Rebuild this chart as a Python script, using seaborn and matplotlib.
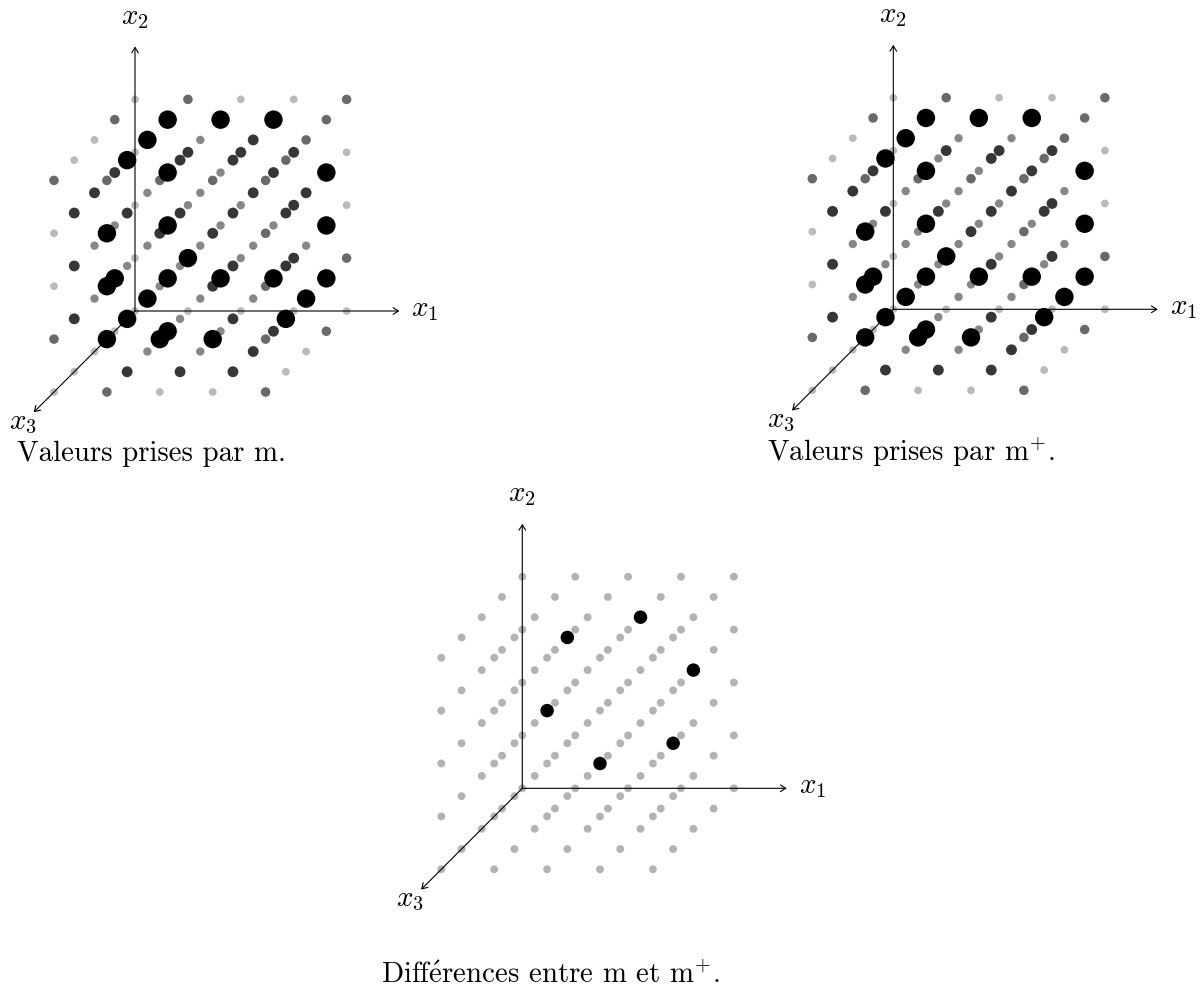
import matplotlib
matplotlib.use("Agg")
import matplotlib.pyplot as plt
import numpy as np
import pandas as pd
import seaborn as sns

sns.set_theme(style="white")
plt.rcParams["mathtext.fontset"] = "cm"
plt.rcParams["font.family"] = ["cmr10", "DejaVu Serif"]
plt.rcParams["axes.formatter.use_mathtext"] = True

W, H = 1203, 992
UNIT = 52.9            # pixels per lattice unit
DEPTH = 20.25 / 52.9   # oblique projection of the x3 axis

GREYS = {0: "#bababa", 1: "#878787", 2: "#696969", 3: "#363636", 4: "#000000"}
SIZES = {0: 31, 1: 36, 2: 47, 3: 61, 4: 176}

# levels of m, layer by layer: levels[k][j][i]  (j = 0 is the bottom row)
m_k0 = [[0, 0, 0, 0, 0],
        [0, 4, 1, 3, 2],
        [0, 1, 1, 3, 0],
        [0, 3, 3, 3, 0],
        [0, 2, 0, 0, 2]]
m_k1 = [[0, 4, 1, 3, 2],
        [4, 4, 4, 4, 4],
        [1, 4, 1, 1, 4],
        [3, 4, 1, 3, 4],
        [2, 4, 4, 4, 2]]
m_k2 = [[0, 1, 1, 3, 0],
        [1, 4, 1, 1, 4],
        [1, 1, 1, 1, 1],
        [3, 1, 1, 3, 3],
        [0, 4, 1, 3, 2]]
m_k3 = [[0, 3, 3, 3, 0],
        [3, 4, 1, 3, 4],
        [3, 1, 1, 3, 3],
        [3, 3, 3, 3, 3],
        [0, 4, 3, 3, 2]]
m_k4 = [[0, 2, 0, 0, 2],
        [2, 4, 4, 4, 2],
        [0, 4, 1, 3, 2],
        [0, 4, 3, 3, 2],
        [2, 2, 2, 2, 2]]
m_levels = [m_k0, m_k1, m_k2, m_k3, m_k4]

# lattice points (i, j, k) where m and m+ differ
diff_points = [(2, 4, 3), (3, 4, 2), (4, 3, 2), (2, 3, 4), (4, 2, 3), (3, 2, 4)]

captions = ["Valeurs prises par m.", "Valeurs prises par m$^{+}$.",
            r"Diff$\acute{\mathrm{e}}$rences entre m et m$^{+}$."]


def lattice(levels):
    rows = []
    for k, layer in enumerate(levels):
        for j, row in enumerate(layer):
            for i, lev in enumerate(row):
                rows.append(dict(i=i, j=j, k=k, level=lev,
                                 px=i - DEPTH * k, py=j - DEPTH * k))
    return pd.DataFrame(rows)


def make_axes(fig, box, origin):
    left, top, w, h = box
    ax = fig.add_axes([left / W, 1 - (top + h) / H, w / W, h / H])
    ox, oy = origin
    ax.set_xlim((left - ox) / UNIT, (left + w - ox) / UNIT)
    ax.set_ylim((oy - top - h) / UNIT, (oy - top) / UNIT)
    ax.axis("off")
    return ax


def draw_axes(ax):
    for end in [(5, 0), (0, 5), (-5 * DEPTH, -5 * DEPTH)]:
        ax.annotate("", xy=end, xytext=(0, 0), zorder=5,
                    arrowprops=dict(arrowstyle="->,head_length=0.32,head_width=0.2",
                                    lw=0.8, color="black", shrinkA=0, shrinkB=0))
    kw = dict(fontsize=21, color="black", ha="center", va="center")
    ax.text(290 / UNIT, 1 / UNIT, "$x_1$", **kw)
    ax.text(0, 293 / UNIT, "$x_2$", **kw)
    ax.text(-112 / UNIT, -112 / UNIT, "$x_3$", **kw)


def panel(ax, df, greys, sizes):
    df = df.sort_values("level", kind="stable")
    sns.scatterplot(data=df, x="px", y="py", hue="level", size="level",
                    palette=greys, sizes=sizes, linewidth=0, legend=False,
                    ax=ax, clip_on=False, zorder=3)
    ax.set_xlabel("")
    ax.set_ylabel("")
    draw_axes(ax)


fig = plt.figure(figsize=(W / 100, H / 100), dpi=100)
fig.patch.set_facecolor("white")

base = lattice(m_levels)

# m
ax1 = make_axes(fig, (0, 0, 450, 470), (135, 311))
panel(ax1, base, GREYS, SIZES)

# m+ : the differing points drop to the middle level
plus = base.copy()
for (i, j, k) in diff_points:
    plus.loc[(plus.i == i) & (plus.j == j) & (plus.k == k), "level"] = 1
ax2 = make_axes(fig, (760, 0, 443, 470), (893.3, 309.3))
panel(ax2, plus, GREYS, SIZES)

# differences
diff = base.copy()
diff["level"] = 0
for (i, j, k) in diff_points:
    diff.loc[(diff.i == i) & (diff.j == j) & (diff.k == k), "level"] = 1
ax3 = make_axes(fig, (380, 480, 450, 512), (522.3, 788.3))
panel(ax3, diff, {0: "#b3b3b3", 1: "#000000"}, {0: 32, 1: 94})

for (x, y, s) in [(17, 461, captions[0]), (767, 461, captions[1]), (381, 983, captions[2])]:
    fig.text(x / W, 1 - y / H, s, fontsize=20.8, color="black", ha="left", va="baseline")

fig.savefig("out.png", dpi=100)
